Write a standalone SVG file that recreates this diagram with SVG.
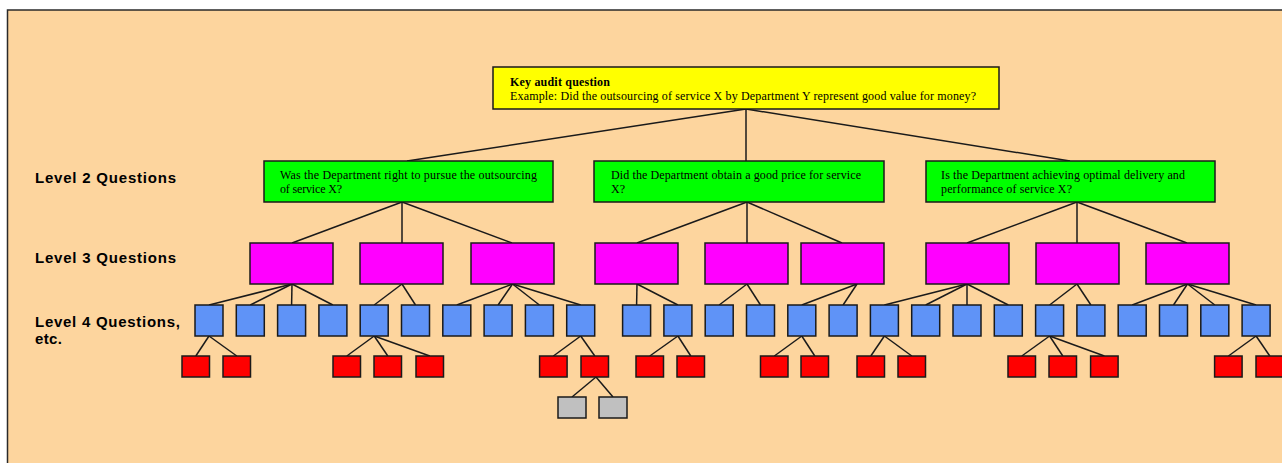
<svg xmlns="http://www.w3.org/2000/svg" width="1282" height="463" viewBox="0 0 1282 463">
<style>
.bg{fill:#FDD59E;stroke:#2a2a2a;stroke-width:1.5}
.box{stroke:#1a1a1a;stroke-width:1.5}
.y{fill:#FFFF00}.g{fill:#00FF00}.m{fill:#FF00FF}.b{fill:#5F93F7}.r{fill:#FF0000}.gr{fill:#C0C0C0}
.conn line{stroke:#1a1a1a;stroke-width:1.5}
.t{font-family:"Liberation Serif","Times New Roman",serif;font-size:12px;fill:#000}
.tb{font-weight:bold}
.lbl{font-family:"Liberation Sans",Arial,sans-serif;font-size:15px;font-weight:bold;fill:#000}
</style>
<rect x="0" y="0" width="1282" height="463" fill="#FFFFFF"/>
<rect class="bg" x="7.5" y="10" width="1290" height="470"/>
<g id="labels">
<text class="lbl" x="35" y="183" textLength="141" lengthAdjust="spacing">Level 2 Questions</text>
<text class="lbl" x="35" y="263" textLength="141" lengthAdjust="spacing">Level 3 Questions</text>
<text class="lbl" x="35" y="327" textLength="145" lengthAdjust="spacing">Level 4 Questions,</text>
<text class="lbl" x="35" y="344" textLength="27" lengthAdjust="spacing">etc.</text>
</g>
<g id="connectors" class="conn">
<line x1="746" y1="109" x2="407" y2="161"/>
<line x1="746" y1="109" x2="746" y2="161"/>
<line x1="746" y1="109" x2="1070" y2="161"/>
<line x1="402" y1="202" x2="292" y2="243"/>
<line x1="402" y1="202" x2="402" y2="243"/>
<line x1="402" y1="202" x2="512" y2="243"/>
<line x1="747" y1="202" x2="637" y2="243"/>
<line x1="747" y1="202" x2="747" y2="243"/>
<line x1="747" y1="202" x2="842" y2="243"/>
<line x1="1077" y1="202" x2="967" y2="243"/>
<line x1="1077" y1="202" x2="1077" y2="243"/>
<line x1="1077" y1="202" x2="1187" y2="243"/>
<line x1="292" y1="284" x2="209" y2="305"/>
<line x1="292" y1="284" x2="250.3" y2="305"/>
<line x1="292" y1="284" x2="291.6" y2="305"/>
<line x1="292" y1="284" x2="332.9" y2="305"/>
<line x1="402" y1="284" x2="374.2" y2="305"/>
<line x1="402" y1="284" x2="415.5" y2="305"/>
<line x1="512.5" y1="284" x2="456.8" y2="305"/>
<line x1="512.5" y1="284" x2="498.1" y2="305"/>
<line x1="512.5" y1="284" x2="539.4" y2="305"/>
<line x1="512.5" y1="284" x2="580.7" y2="305"/>
<line x1="637" y1="284" x2="636.6" y2="305"/>
<line x1="637" y1="284" x2="677.9" y2="305"/>
<line x1="747" y1="284" x2="719.2" y2="305"/>
<line x1="747" y1="284" x2="760.5" y2="305"/>
<line x1="857" y1="284" x2="801.8" y2="305"/>
<line x1="857" y1="284" x2="843.1" y2="305"/>
<line x1="967" y1="284" x2="884.4" y2="305"/>
<line x1="967" y1="284" x2="925.7" y2="305"/>
<line x1="967" y1="284" x2="967" y2="305"/>
<line x1="967" y1="284" x2="1008.3" y2="305"/>
<line x1="1077" y1="284" x2="1049.6" y2="305"/>
<line x1="1077" y1="284" x2="1090.9" y2="305"/>
<line x1="1187.5" y1="284" x2="1132.2" y2="305"/>
<line x1="1187.5" y1="284" x2="1173.5" y2="305"/>
<line x1="1187.5" y1="284" x2="1214.8" y2="305"/>
<line x1="1187.5" y1="284" x2="1256.1" y2="305"/>
<line x1="209" y1="336" x2="195.8" y2="356"/>
<line x1="209" y1="336" x2="236.8" y2="356"/>
<line x1="374.2" y1="336" x2="346.8" y2="356"/>
<line x1="374.2" y1="336" x2="387.8" y2="356"/>
<line x1="374.2" y1="336" x2="429.8" y2="356"/>
<line x1="580.7" y1="336" x2="553.4" y2="356"/>
<line x1="580.7" y1="336" x2="594.8" y2="356"/>
<line x1="677.9" y1="336" x2="649.8" y2="356"/>
<line x1="677.9" y1="336" x2="690.8" y2="356"/>
<line x1="801.8" y1="336" x2="774.3" y2="356"/>
<line x1="801.8" y1="336" x2="814.8" y2="356"/>
<line x1="884.4" y1="336" x2="870.8" y2="356"/>
<line x1="884.4" y1="336" x2="911.8" y2="356"/>
<line x1="1049.6" y1="336" x2="1021.8" y2="356"/>
<line x1="1049.6" y1="336" x2="1062.8" y2="356"/>
<line x1="1049.6" y1="336" x2="1104.4" y2="356"/>
<line x1="1256.1" y1="336" x2="1228.4" y2="356"/>
<line x1="1256.1" y1="336" x2="1269.8" y2="356"/>
<line x1="596" y1="377" x2="572" y2="397"/>
<line x1="596" y1="377" x2="613" y2="397"/>
</g>
<g id="key">
<rect class="box y" x="493" y="67" width="506" height="42"/>
<text class="t tb" x="510" y="86" textLength="100" lengthAdjust="spacing">Key audit question</text>
<text class="t" x="510" y="100" textLength="466" lengthAdjust="spacing">Example: Did the outsourcing of service X by Department Y represent good value for money?</text>
</g>
<g id="l2-1">
<rect class="box g" x="264" y="161" width="289" height="41"/>
<text class="t" x="280" y="179" textLength="257" lengthAdjust="spacing">Was the Department right to pursue the outsourcing</text>
<text class="t" x="280" y="193" textLength="62" lengthAdjust="spacing">of service X?</text>
</g>
<g id="l2-2">
<rect class="box g" x="594" y="161" width="290" height="41"/>
<text class="t" x="611" y="179" textLength="250" lengthAdjust="spacing">Did the Department obtain a good price for service</text>
<text class="t" x="611" y="193">X?</text>
</g>
<g id="l2-3">
<rect class="box g" x="926" y="161" width="289" height="41"/>
<text class="t" x="941" y="179" textLength="244" lengthAdjust="spacing">Is the Department achieving optimal delivery and</text>
<text class="t" x="941" y="193" textLength="131" lengthAdjust="spacing">performance of service X?</text>
</g>
<g id="l3-1"><rect class="box m" x="250" y="243" width="83" height="41"/></g>
<g id="l3-2"><rect class="box m" x="360" y="243" width="83" height="41"/></g>
<g id="l3-3"><rect class="box m" x="471" y="243" width="83" height="41"/></g>
<g id="l3-4"><rect class="box m" x="595" y="243" width="83" height="41"/></g>
<g id="l3-5"><rect class="box m" x="705" y="243" width="83" height="41"/></g>
<g id="l3-6"><rect class="box m" x="801" y="243" width="83" height="41"/></g>
<g id="l3-7"><rect class="box m" x="926" y="243" width="83" height="41"/></g>
<g id="l3-8"><rect class="box m" x="1036" y="243" width="83" height="41"/></g>
<g id="l3-9"><rect class="box m" x="1146" y="243" width="83" height="41"/></g>
<g id="l4-1"><rect class="box b" x="195" y="305" width="28" height="31"/></g>
<g id="l4-2"><rect class="box b" x="236.3" y="305" width="28" height="31"/></g>
<g id="l4-3"><rect class="box b" x="277.6" y="305" width="28" height="31"/></g>
<g id="l4-4"><rect class="box b" x="318.9" y="305" width="28" height="31"/></g>
<g id="l4-5"><rect class="box b" x="360.2" y="305" width="28" height="31"/></g>
<g id="l4-6"><rect class="box b" x="401.5" y="305" width="28" height="31"/></g>
<g id="l4-7"><rect class="box b" x="442.8" y="305" width="28" height="31"/></g>
<g id="l4-8"><rect class="box b" x="484.1" y="305" width="28" height="31"/></g>
<g id="l4-9"><rect class="box b" x="525.4" y="305" width="28" height="31"/></g>
<g id="l4-10"><rect class="box b" x="566.7" y="305" width="28" height="31"/></g>
<g id="l4-11"><rect class="box b" x="622.6" y="305" width="28" height="31"/></g>
<g id="l4-12"><rect class="box b" x="663.9" y="305" width="28" height="31"/></g>
<g id="l4-13"><rect class="box b" x="705.2" y="305" width="28" height="31"/></g>
<g id="l4-14"><rect class="box b" x="746.5" y="305" width="28" height="31"/></g>
<g id="l4-15"><rect class="box b" x="787.8" y="305" width="28" height="31"/></g>
<g id="l4-16"><rect class="box b" x="829.1" y="305" width="28" height="31"/></g>
<g id="l4-17"><rect class="box b" x="870.4" y="305" width="28" height="31"/></g>
<g id="l4-18"><rect class="box b" x="911.7" y="305" width="28" height="31"/></g>
<g id="l4-19"><rect class="box b" x="953" y="305" width="28" height="31"/></g>
<g id="l4-20"><rect class="box b" x="994.3" y="305" width="28" height="31"/></g>
<g id="l4-21"><rect class="box b" x="1035.6" y="305" width="28" height="31"/></g>
<g id="l4-22"><rect class="box b" x="1076.9" y="305" width="28" height="31"/></g>
<g id="l4-23"><rect class="box b" x="1118.2" y="305" width="28" height="31"/></g>
<g id="l4-24"><rect class="box b" x="1159.5" y="305" width="28" height="31"/></g>
<g id="l4-25"><rect class="box b" x="1200.8" y="305" width="28" height="31"/></g>
<g id="l4-26"><rect class="box b" x="1242.1" y="305" width="28" height="31"/></g>
<g id="l5-1"><rect class="box r" x="182" y="356" width="27.5" height="21"/></g>
<g id="l5-2"><rect class="box r" x="223" y="356" width="27.5" height="21"/></g>
<g id="l5-3"><rect class="box r" x="333" y="356" width="27.5" height="21"/></g>
<g id="l5-4"><rect class="box r" x="374" y="356" width="27.5" height="21"/></g>
<g id="l5-5"><rect class="box r" x="416" y="356" width="27.5" height="21"/></g>
<g id="l5-6"><rect class="box r" x="539.6" y="356" width="27.5" height="21"/></g>
<g id="l5-7"><rect class="box r" x="581" y="356" width="27.5" height="21"/></g>
<g id="l5-8"><rect class="box r" x="636" y="356" width="27.5" height="21"/></g>
<g id="l5-9"><rect class="box r" x="677" y="356" width="27.5" height="21"/></g>
<g id="l5-10"><rect class="box r" x="760.5" y="356" width="27.5" height="21"/></g>
<g id="l5-11"><rect class="box r" x="801" y="356" width="27.5" height="21"/></g>
<g id="l5-12"><rect class="box r" x="857" y="356" width="27.5" height="21"/></g>
<g id="l5-13"><rect class="box r" x="898" y="356" width="27.5" height="21"/></g>
<g id="l5-14"><rect class="box r" x="1008" y="356" width="27.5" height="21"/></g>
<g id="l5-15"><rect class="box r" x="1049" y="356" width="27.5" height="21"/></g>
<g id="l5-16"><rect class="box r" x="1090.6" y="356" width="27.5" height="21"/></g>
<g id="l5-17"><rect class="box r" x="1214.6" y="356" width="27.5" height="21"/></g>
<g id="l5-18"><rect class="box r" x="1256" y="356" width="27.5" height="21"/></g>
<g id="l6-1"><rect class="box gr" x="558" y="397" width="28" height="21"/></g>
<g id="l6-2"><rect class="box gr" x="599" y="397" width="28" height="21"/></g>
</svg>
